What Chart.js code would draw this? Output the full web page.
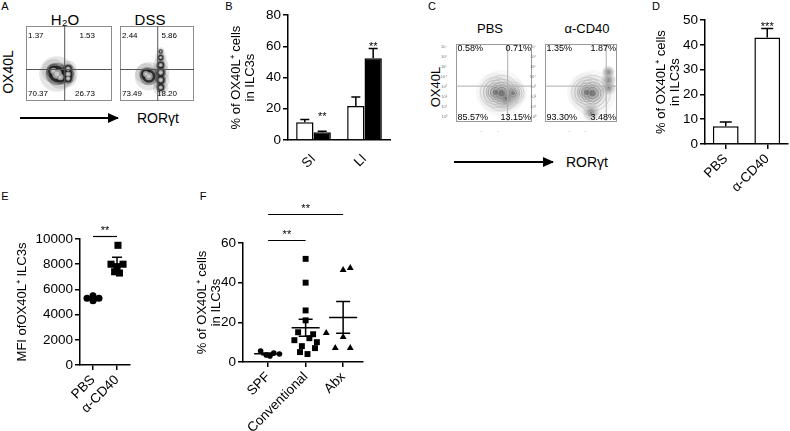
<!DOCTYPE html>
<html lang="en">
<head>
<meta charset="UTF-8">
<title>OX40L expression in ILC3s</title>
<script src="https://cdn.jsdelivr.net/npm/chart.js"></script>
<style>
  body { margin: 0; background: #fff; font-family: Arial, "Liberation Sans", sans-serif; color: #000; }
  #fig { position: relative; width: 790px; height: 431px; overflow: hidden; background: #fff; }
  .pane { position: absolute; }
  .t { position: absolute; white-space: nowrap; line-height: 1; transform: translate(-50%, -50%); }
  .l { position: absolute; white-space: nowrap; line-height: 1; transform: translate(0, -50%); }
  .r { position: absolute; white-space: nowrap; line-height: 1; transform: translate(-50%, -50%) rotate(-90deg); }
  .arrow { position: absolute; height: 1.5px; background: #000; }
  .arrow::after { content: ''; position: absolute; right: -1px; top: -4.25px; border-left: 11px solid #000; border-top: 5px solid transparent; border-bottom: 5px solid transparent; }
</style>
</head>
<body>
<div id="fig">
  <div class="t" style="left:5px;top:6px;font-size:11px">A</div>
  <div class="t" style="left:229px;top:6px;font-size:11px">B</div>
  <div class="t" style="left:432px;top:6px;font-size:11px">C</div>
  <div class="t" style="left:656px;top:6px;font-size:11px">D</div>
  <div class="t" style="left:5px;top:196px;font-size:11px">E</div>
  <div class="t" style="left:203px;top:196px;font-size:11px">F</div>

  <div class="t" style="left:65px;top:19px;font-size:15px">H₂O</div>
  <div class="t" style="left:150px;top:19px;font-size:15px">DSS</div>
  <div class="r" style="left:8px;top:72px;font-size:14px">OX40L</div>
  <div class="arrow" style="left:20px;top:117px;width:98px"></div>
  <div class="l" style="left:137px;top:118px;font-size:14px">RORγt</div>

  <div class="t" style="left:490px;top:28px;font-size:13px">PBS</div>
  <div class="t" style="left:587px;top:28px;font-size:13px">α-CD40</div>
  <div class="r" style="left:435px;top:87px;font-size:13px">OX40L</div>
  <div class="arrow" style="left:454px;top:161px;width:99px"></div>
  <div class="l" style="left:566px;top:162px;font-size:14px">RORγt</div>
</div>
<script>
// ---- A: flow plots (H2O vs DSS) ----
const flowAQuad = [["1.37", "1.53", "70.37", "26.73"], ["2.44", "5.86", "73.49", "18.20"]];
const flowAGates = [[45, 42], [51, 42]];
// [x, y, weight] of the event clouds (0-100 plot units)
const flowAH2o = [[36, 36, 3], [32, 40, 2], [40, 32, 2], [49, 30, 1.4], [49, 36, 1.6], [49, 43, 1.4]];
const flowADss = [[39, 33, 2.4], [35, 36, 1.8], [55, 18, 1.3], [55, 28, 1.5], [55, 38, 1.5], [55, 48, 1.3], [55, 58, 1.0], [55, 66, 0.7]];

// ---- B: % OX40L+ in SI / LI ----
const barBCats = ["SI", "LI"];
const barBH2o = [11.3, 21.8];
const barBH2oErr = [1.9, 5.7];
const barBDss = [4.9, 52.3];
const barBDssErr = [0.7, 6.3];
const barBStars = ["**", "**"];

// ---- C: flow plots (PBS vs anti-CD40) ----
const flowCQuad = [["0.58%", "0.71%", "85.57%", "13.15%"], ["1.35%", "1.87%", "93.30%", "3.48%"]];
const flowCGates = [[68, 46], [85, 46]];
const flowCPbs = [[52, 38, 3], [60, 37, 3.5], [66, 30, 2], [75, 37, 2.2]];
const flowCCd40 = [[58, 38, 3], [66, 37, 3.5], [64, 12, 1.4], [88, 44, 1.2], [88, 54, 1.2], [88, 64, 1.0]];
const flowYTicks = ["10⁰", "10¹", "10²", "10³", "10⁴", "10⁵", "10⁶", "10⁷"];
const flowXTicks = ["0", "10²", "10³", "10⁴", "10⁵"];

// ---- D: % OX40L+ PBS / anti-CD40 ----
const barDCats = ["PBS", "α-CD40"];
const barDMeans = [7.2, 43.0];
const barDErr = [1.7, 3.6];
const barDStars = ["", "***"];

// ---- E: MFI ----
const eGroups = ["PBS", "α-CD40"];
const ePbs = [5300, 5500, 5100, 5300, 5250];
const ePbsJitter = [-0.25, 0, 0, 0.25, 0.05];
const eCd40 = [9500, 8000, 8000, 7800, 7400, 7300];
const eCd40Jitter = [0.04, -0.25, 0.25, 0, -0.1, 0.1];
const eMean = [5280, 8000];
const eSem = [80, 560];
const eSig = [[0, 1, "**"]];

// ---- F: SPF / Conventional / Abx ----
const fGroups = ["SPF", "Conventional", "Abx"];
const fSpf = [5.5, 3.5, 3.0, 4.5, 4.0];
const fSpfJitter = [-0.2, -0.05, 0.05, 0.15, 0.3];
const fConv = [52, 40, 26, 21, 15, 14, 12, 11, 10, 8, 7, 5, 4];
const fConvJitter = [0, 0, 0, 0, -0.2, 0.2, 0.1, -0.3, 0.3, -0.1, 0.25, -0.15, 0.05];
const fAbx = [46.4, 47.4, 14.6, 12.6, 7, 7];
const fAbxJitter = [0, 0.19, -0.45, 0, -0.21, 0.19];
const fMean = [4.1, 17.3, 22.5];
const fSem = [0.5, 4.3, 8.0];
const fSig = [[0, 1, "**"], [0, 2, "**"]];

const FONT = 'Arial, "Liberation Sans", sans-serif';
Chart.defaults.font.family = FONT;
Chart.defaults.font.size = 13;
Chart.defaults.color = '#000';
Chart.defaults.animation = false;
Chart.defaults.events = [];
Chart.defaults.plugins.legend.display = false;
Chart.defaults.plugins.tooltip.enabled = false;

const fig = document.getElementById('fig');

function pane(box) {
    const c = document.createElement('canvas');
    c.width = box[2];
    c.height = box[3];
    c.className = 'pane';
    c.style.left = box[0] + 'px';
    c.style.top = box[1] + 'px';
    c.style.width = box[2] + 'px';
    c.style.height = box[3] + 'px';
    fig.appendChild(c);
    return c;
}

// box = canvas [left, top, width, height]; area = plot rect [x0, y0, x1, y1], page pixels
function fit(box, area) {
    return {
        padding: { left: 0, top: area[1] - box[1], right: box[0] + box[2] - area[2], bottom: 0 },
        yWidth: area[0] - box[0],
        xHeight: box[1] + box[3] - area[3]
    };
}

function yAxis(f, min, max, step, title) {
    return {
        min: min, max: max,
        ticks: { stepSize: step, padding: 2, color: '#000', font: { size: 13.5 }, callback: v => v },
        grid: { drawOnChartArea: false, drawTicks: true, tickLength: 5, color: '#000', lineWidth: 1.5 },
        border: { display: true, color: '#000', width: 1.5 },
        title: { display: true, text: title, padding: 0, color: '#000', font: { size: 13, lineHeight: 1.05 } },
        afterFit: s => { s.width = f.yWidth; }
    };
}

function barErrors(stars, cap) {
    return {
        id: 'barErrors',
        afterDatasetsDraw(chart) {
            const ctx = chart.ctx, y = chart.scales.y;
            const tops = [];
            ctx.save();
            ctx.strokeStyle = '#000';
            ctx.lineWidth = 1.5;
            chart.data.datasets.forEach((ds, d) => {
                chart.getDatasetMeta(d).data.forEach((bar, i) => {
                    const base = y.getPixelForValue(ds.data[i]);
                    const top = y.getPixelForValue(ds.data[i] + ds.errors[i]);
                    ctx.beginPath();
                    ctx.moveTo(bar.x, base);
                    ctx.lineTo(bar.x, top);
                    ctx.moveTo(bar.x - cap, top);
                    ctx.lineTo(bar.x + cap, top);
                    ctx.stroke();
                    tops[i] = Math.min(tops[i] === undefined ? Infinity : tops[i], top);
                });
            });
            const last = chart.getDatasetMeta(chart.data.datasets.length - 1).data;
            ctx.fillStyle = '#000';
            ctx.font = '11px ' + FONT;
            ctx.textAlign = 'center';
            ctx.textBaseline = 'alphabetic';
            stars.forEach((s, i) => { if (s) ctx.fillText(s, last[i].x, tops[i] + 1); });
            ctx.restore();
        }
    };
}

function meanSem(means, sems, sig, half, cap) {
    return {
        id: 'meanSem',
        afterDatasetsDraw(chart) {
            const ctx = chart.ctx, x = chart.scales.x, y = chart.scales.y;
            ctx.save();
            ctx.strokeStyle = '#000';
            ctx.lineWidth = 1.5;
            means.forEach((m, i) => {
                const cx = x.getPixelForValue(i);
                const my = y.getPixelForValue(m);
                const hi = y.getPixelForValue(m + sems[i]);
                const lo = y.getPixelForValue(m - sems[i]);
                ctx.beginPath();
                ctx.moveTo(cx - half, my); ctx.lineTo(cx + half, my);
                ctx.moveTo(cx, lo); ctx.lineTo(cx, hi);
                ctx.moveTo(cx - cap, hi); ctx.lineTo(cx + cap, hi);
                ctx.moveTo(cx - cap, lo); ctx.lineTo(cx + cap, lo);
                ctx.stroke();
            });
            ctx.lineWidth = 1.2;
            ctx.fillStyle = '#000';
            ctx.font = '11px ' + FONT;
            ctx.textAlign = 'center';
            ctx.textBaseline = 'alphabetic';
            sig.forEach((s, k) => {
                const yy = chart.chartArea.top - 2.5 - k * 26;
                const a = x.getPixelForValue(s[0]), b = x.getPixelForValue(s[1]);
                ctx.beginPath();
                ctx.moveTo(a, yy); ctx.lineTo(b, yy);
                ctx.stroke();
                ctx.fillText(s[2], (a + b) / 2, yy - 3);
            });
            ctx.restore();
        }
    };
}

function flowDecor(gates, quad, look) {
    return {
        id: 'flowDecor',
        afterDatasetsDraw(chart) {
            const ctx = chart.ctx, a = chart.chartArea, x = chart.scales.x, y = chart.scales.y;
            const ins = look.inset;
            ctx.save();
            ctx.lineWidth = 1;
            ctx.strokeStyle = look.frame;
            ctx.strokeRect(a.left + 0.5, a.top + 0.5, a.width - 1, a.height - 1);
            const gx = x.getPixelForValue(gates[0]), gy = y.getPixelForValue(gates[1]);
            ctx.strokeStyle = look.gate;
            ctx.beginPath();
            ctx.moveTo(gx, a.top); ctx.lineTo(gx, a.bottom);
            ctx.moveTo(a.left, gy); ctx.lineTo(a.right, gy);
            ctx.stroke();
            ctx.fillStyle = '#000';
            ctx.font = look.font + 'px ' + FONT;
            ctx.textBaseline = 'top';
            ctx.textAlign = 'left';
            ctx.fillText(quad[0], a.left + ins.l, a.top + ins.t);
            ctx.textAlign = 'right';
            ctx.fillText(quad[1], a.right - ins.r, a.top + ins.t);
            ctx.textBaseline = 'bottom';
            ctx.textAlign = 'left';
            ctx.fillText(quad[2], a.left + ins.l, a.bottom - ins.b);
            ctx.textAlign = 'right';
            ctx.fillText(quad[3], a.right - ins.r, a.bottom - ins.b);
            ctx.restore();
        }
    };
}

const lookA = {
    unit: 2.7, frame: '#8c8c8c', gate: '#555', font: 8, inset: { l: 2, r: 17, t: 5.5, b: 3.5 },
    layers: [
        { k: 0.3, fill: '#c8c8c8' },
        { k: 0.6, fill: '#9a9a9a' },
        { k: 1.0, fill: 'rgba(30,30,30,0.85)' },
        { k: 1.4, fill: 'rgba(0,0,0,0.3)' },
        { k: 2.2, fill: 'rgba(0,0,0,0.1)' }
    ]
};
const lookC = {
    unit: 3, frame: '#9a9a9a', gate: '#b0b0b0', font: 9, inset: { l: 1.5, r: 1, t: 0, b: 0 },
    layers: [
        { k: 0.3, fill: 'rgba(90,90,90,0.55)' },
        { k: 0.55, fill: 'rgba(120,120,120,0.25)', line: '#888' },
        { k: 0.8, fill: 'rgba(150,150,150,0.15)', line: '#999' },
        { k: 1.05, fill: 'rgba(170,170,170,0.1)', line: '#aaa' },
        { k: 1.35, fill: 'rgba(0,0,0,0)', line: '#bbb' },
        { k: 1.7, fill: 'rgba(0,0,0,0.03)', line: '#ccc' },
        { k: 2.2, fill: 'rgba(0,0,0,0.03)' }
    ]
};

function flowPlot(box, area, blobs, gates, quad, look, withTicks) {
    const f = fit(box, area);
    const padding = withTicks ? f.padding
        : { left: f.yWidth, top: f.padding.top, right: f.padding.right, bottom: f.xHeight };
    const axis = (labels, lo, hi, horizontal) => ({
        min: 0, max: 100,
        display: withTicks,
        grid: { display: false },
        border: { display: false },
        ticks: { autoSkip: false, maxRotation: 0, minRotation: 0, padding: 1, color: '#777', font: { size: 4 },
                 callback: (v, i) => labels[i] },
        afterBuildTicks: s => {
            s.ticks = labels.map((_, i) => ({ value: lo + (hi - lo) * i / (labels.length - 1) }));
        },
        afterFit: s => { if (horizontal) s.height = f.xHeight; else s.width = f.yWidth; }
    });
    new Chart(pane(box), {
        type: 'bubble',
        data: {
            datasets: look.layers.map(L => ({
                data: blobs.map(b => ({ x: b[0], y: b[1], r: b[2] * look.unit * L.k })),
                backgroundColor: L.fill,
                borderColor: L.line || 'rgba(0,0,0,0)',
                borderWidth: L.line ? 0.8 : 0
            }))
        },
        options: {
            responsive: false,
            layout: { padding: padding, autoPadding: false },
            scales: { x: axis(flowXTicks, 8, 97, true), y: axis(flowYTicks, 6, 96, false) }
        },
        plugins: [flowDecor(gates, quad, look)]
    });
}

// A
flowPlot([20, 23, 95, 84], [23, 26, 112, 104], flowAH2o, flowAGates[0], flowAQuad[0], lookA, false);
flowPlot([114, 23, 83, 84], [117, 26, 194, 104], flowADss, flowAGates[1], flowAQuad[1], lookA, false);

// C
flowPlot([440, 40, 96, 92], [456, 44, 532, 122], flowCPbs, flowCGates[0], flowCQuad[0], lookC, true);
flowPlot([530, 40, 92, 92], [545, 44, 617, 122], flowCCd40, flowCGates[1], flowCQuad[1], lookC, true);

// B
const boxB = [230, 5, 166, 190];
const fB = fit(boxB, [288, 15, 390, 140]);
new Chart(pane(boxB), {
    type: 'bar',
    data: {
        labels: barBCats,
        datasets: [
            { label: 'H₂O', data: barBH2o, errors: barBH2oErr, backgroundColor: '#fff', borderColor: '#000',
              borderWidth: 1.5, categoryPercentage: 0.68, barPercentage: 1 },
            { label: 'DSS', data: barBDss, errors: barBDssErr, backgroundColor: '#000', borderColor: '#000',
              borderWidth: 1.5, categoryPercentage: 0.68, barPercentage: 1 }
        ]
    },
    options: {
        responsive: false,
        layout: { padding: fB.padding },
        scales: {
            x: {
                grid: { display: false },
                border: { display: true, color: '#000', width: 1.5 },
                ticks: { minRotation: 45, maxRotation: 45, padding: 3, color: '#000', font: { size: 13.5 } },
                afterFit: s => { s.height = fB.xHeight; }
            },
            y: yAxis(fB, 0, 80, 20, ['% of OX40L⁺ cells', 'in ILC3s'])
        }
    },
    plugins: [barErrors(barBStars, 4.5)]
});

// D
const boxD = [655, 10, 145, 190];
const fD = fit(boxD, [705, 20, 788, 144]);
new Chart(pane(boxD), {
    type: 'bar',
    data: {
        labels: barDCats,
        datasets: [{ data: barDMeans, errors: barDErr, backgroundColor: '#fff', borderColor: '#000',
                     borderWidth: 1.5, categoryPercentage: 1, barPercentage: 0.62 }]
    },
    options: {
        responsive: false,
        layout: { padding: fD.padding },
        scales: {
            x: {
                grid: { display: true, drawOnChartArea: false, offset: false, tickLength: 5, color: '#000', lineWidth: 1.5 },
                border: { display: true, color: '#000', width: 1.5 },
                ticks: { minRotation: 45, maxRotation: 45, padding: 2, color: '#000', font: { size: 13.5 } },
                afterFit: s => { s.height = fD.xHeight; }
            },
            y: yAxis(fD, 0, 50, 10, ['% of OX40L⁺ cells', 'in ILC3s'])
        }
    },
    plugins: [barErrors(barDStars, 6)]
});

function groupAxis(f, groups, min, max) {
    return {
        type: 'linear', min: min, max: max,
        grid: { display: true, drawOnChartArea: false, tickLength: 5, color: '#000', lineWidth: 1.5 },
        border: { display: true, color: '#000', width: 1.5 },
        ticks: { autoSkip: false, minRotation: 45, maxRotation: 45, padding: 2, color: '#000', font: { size: 13.5 },
                 callback: v => groups[Math.round(v)] },
        afterBuildTicks: s => { s.ticks = groups.map((_, i) => ({ value: i })); },
        afterFit: s => { s.height = f.xHeight; }
    };
}

function dots(values, jitter, group, style, radius) {
    return {
        data: values.map((v, i) => ({ x: group + jitter[i], y: v })),
        pointStyle: style, pointRadius: radius, backgroundColor: '#000', borderColor: '#000', borderWidth: 0
    };
}

// E
const boxE = [16, 215, 124, 216];
const fE = fit(boxE, [80, 239, 130, 365]);
new Chart(pane(boxE), {
    type: 'scatter',
    data: { datasets: [dots(ePbs, ePbsJitter, 0, 'circle', 3.5), dots(eCd40, eCd40Jitter, 1, 'rect', 5)] },
    options: {
        responsive: false,
        layout: { padding: fE.padding },
        scales: {
            x: groupAxis(fE, eGroups, -0.54, 1.54),
            y: yAxis(fE, 0, 10000, 2000, 'MFI ofOX40L⁺ ILC3s')
        }
    },
    plugins: [meanSem(eMean, eSem, eSig, 9, 5)]
});

// F
const boxF = [196, 190, 174, 241];
const fF = fit(boxF, [243, 243, 363, 362]);
new Chart(pane(boxF), {
    type: 'scatter',
    data: {
        datasets: [
            dots(fSpf, fSpfJitter, 0, 'circle', 2.8),
            dots(fConv, fConvJitter, 1, 'rect', 4.2),
            dots(fAbx, fAbxJitter, 2, 'triangle', 4)
        ]
    },
    options: {
        responsive: false,
        layout: { padding: fF.padding },
        scales: {
            x: groupAxis(fF, fGroups, -0.67, 2.53),
            y: yAxis(fF, 0, 60, 20, ['% of OX40L⁺ cells', 'in ILC3s'])
        }
    },
    plugins: [meanSem(fMean, fSem, fSig, 14, 7)]
});
</script>
</body>
</html>
